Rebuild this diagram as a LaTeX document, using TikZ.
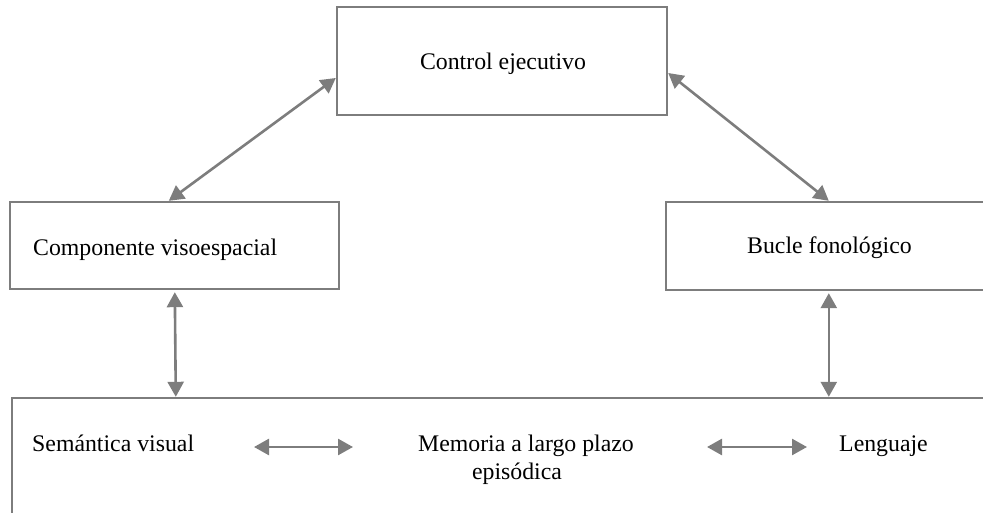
\documentclass[tikz,border=0pt]{standalone}
\usepackage{fontspec}
\setmainfont{Liberation Serif}
\usetikzlibrary{arrows.meta}
\definecolor{linegray}{RGB}{125,125,125}
\tikzset{
  boxframe/.style={draw=linegray, line width=2.4pt, rectangle, inner sep=0pt},
  label/.style={font=\fontsize{23.8}{28}\selectfont, inner sep=0pt, text=black},
  link/.style={draw=linegray, line width=2.6pt,
    {Triangle[length=15pt,width=16pt]}-{Triangle[length=15pt,width=16pt]}}
}
\begin{document}
\begin{tikzpicture}[x=1pt,y=-1pt]
  \useasboundingbox (0,0) rectangle (983,513);
  \clip (0,0) rectangle (983,513);

  % boxes
  \node[boxframe, minimum width=330pt, minimum height=108pt] (ctrl) at (502,61) {};
  \node[boxframe, minimum width=329pt, minimum height=87pt] (vis) at (174.5,245.5) {};
  \node[boxframe, minimum width=344pt, minimum height=88pt] (fon) at (838,246) {};
  \node[boxframe, minimum width=1000pt, minimum height=150pt] (ltm) at (512,473) {};

  % texts
  \node[label, anchor=base] (tctrl) at (503,70) {Control ejecutivo};
  \node[label, anchor=base west] (tvis) at (33,256) {Componente visoespacial};
  \node[label, anchor=base west] (tfon) at (747,254) {Bucle fonológico};
  \node[label, anchor=base west] (tsem) at (32,451) {Semántica visual};
  \node[label, anchor=base] (tmem) at (526,451) {Memoria a largo plazo};
  \node[label, anchor=base] (tepi) at (517,479) {episódica};
  \node[label, anchor=base west] (tlen) at (839,451) {Lenguaje};

  % ends of the horizontal links inside the long-term memory box
  \coordinate (semR) at (254,447);
  \coordinate (memL) at (353,447);
  \coordinate (memR) at (707,447);
  \coordinate (lenL) at (807,447);

  % connectors
  \draw[link] ([yshift=-17pt]ctrl.west) -- ([xshift=160pt]vis.north west);
  \draw[link] ([yshift=-12pt]ctrl.east) -- ([xshift=164pt]fon.north west);
  \draw[link] ([xshift=166pt,yshift=-2pt]vis.south west) -- ([xshift=165pt]ltm.north west);
  \draw[link] ([xshift=164pt,yshift=-2pt]fon.south west) -- ([xshift=818pt]ltm.north west);
  \draw[link] (semR) -- (memL);
  \draw[link] (memR) -- (lenL);
\end{tikzpicture}
\end{document}
